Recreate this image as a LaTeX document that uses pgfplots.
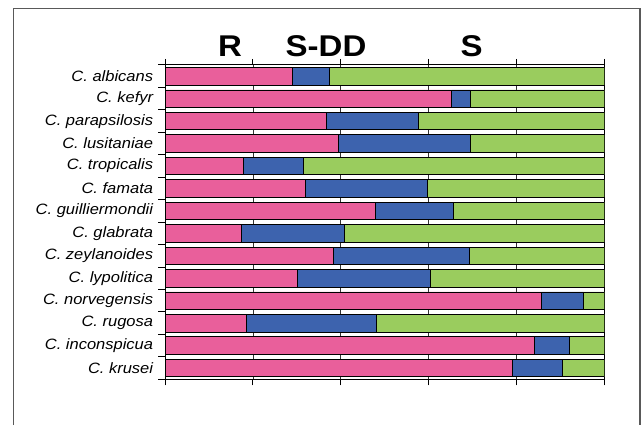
\documentclass[border=0pt]{standalone}
\usepackage{fontspec}
\setmainfont{Liberation Sans}[FakeStretch=1.1]
\usepackage{pgfplots}
\pgfplotsset{compat=1.18}
\definecolor{cR}{HTML}{E95F9B}
\definecolor{cD}{HTML}{3D63AE}
\definecolor{cS}{HTML}{9ACC5E}
\begin{document}
\begin{tikzpicture}
\useasboundingbox (0,0) rectangle (644pt,425pt);
\draw[black!65, line width=1.4pt] (13.3pt,0pt) -- (13.3pt,416.7pt) -- (640pt,416.7pt) -- (640pt,0pt);
\begin{axis}[at={(165pt,45.7pt)}, anchor=south west, scale only axis,
  width=439.7pt, height=314.3pt,
  xbar stacked, bar width=0.78, y dir=reverse,
  xmin=0, xmax=100, ymin=-0.5, ymax=13.5,
  xtick={0,20,...,100}, xticklabels={}, xtick pos=both,
  tick align=outside, major tick length=6pt, minor tick length=7pt,
  xmajorgrids, major grid style={black!80, line width=0.8pt},
  ytick={0,...,13}, ytick pos=left,
  yticklabels={C. albicans, C. kefyr, C. parapsilosis, C. lusitaniae, C. tropicalis, C. famata, C. guilliermondii, C. glabrata, C. zeylanoides, C. lypolitica, C. norvegensis, C. rugosa, C. inconspicua, C. krusei},
  minor ytick={-0.5,0.5,...,13.5},
  every major y tick/.append style={draw=none},
  every tick/.append style={black, line width=1pt},
  every minor tick/.append style={black, line width=1pt},
  yticklabel style={font=\itshape\fontsize{15}{15}\selectfont, inner sep=0pt, xshift=-5.7pt},
  axis line style={black, line width=1pt},
]
\addplot[fill=cR, draw=black, line width=0.8pt] coordinates {(28.9,0) (65.2,1) (36.8,2) (39.4,3) (17.9,4) (32.0,5) (47.9,6) (17.3,7) (38.3,8) (30.2,9) (85.6,10) (18.5,11) (83.9,12) (79.1,13)};
\addplot[fill=cD, draw=black, line width=0.8pt] coordinates {(8.4,0) (4.3,1) (20.8,2) (30.1,3) (13.5,4) (27.6,5) (17.7,6) (23.4,7) (31.0,8) (30.1,9) (9.5,10) (29.6,11) (8.1,12) (11.3,13)};
\addplot[fill=cS, draw=black, line width=0.8pt] coordinates {(62.7,0) (30.5,1) (42.4,2) (30.5,3) (68.6,4) (40.4,5) (34.4,6) (59.3,7) (30.7,8) (39.7,9) (4.9,10) (51.9,11) (8.0,12) (9.6,13)};
\end{axis}
\node[anchor=base, font=\bfseries\fontsize{30}{30}\selectfont] at (230pt,368.3pt) {R};
\node[anchor=base, font=\bfseries\fontsize{30}{30}\selectfont] at (326pt,368.3pt) {S-DD};
\node[anchor=base, font=\bfseries\fontsize{30}{30}\selectfont] at (471.7pt,368.3pt) {S};
\end{tikzpicture}
\end{document}
